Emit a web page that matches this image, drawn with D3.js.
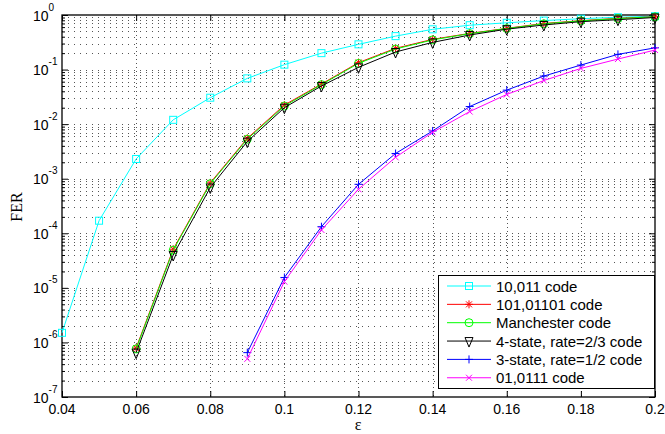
<!DOCTYPE html>
<html>
<head>
<meta charset="utf-8">
<script src="https://cdn.jsdelivr.net/npm/d3@7"></script>
<style>
  body { margin: 0; background: #fff; }
  svg { display: block; }
</style>
</head>
<body>
<div id="chart"></div>
<script>
// data
const epsCyan = [0.04, 0.05, 0.06, 0.07, 0.08, 0.09, 0.1, 0.11, 0.12, 0.13, 0.14, 0.15, 0.16, 0.17, 0.18, 0.19, 0.2];
const epsMid = [0.06, 0.07, 0.08, 0.09, 0.1, 0.11, 0.12, 0.13, 0.14, 0.15, 0.16, 0.17, 0.18, 0.19, 0.2];
const epsLow = [0.09, 0.1, 0.11, 0.12, 0.13, 0.14, 0.15, 0.16, 0.17, 0.18, 0.19, 0.2];

const fer10011 = [1.5e-6, 1.7e-4, 2.3e-3, 1.2e-2, 3.05e-2, 6.9e-2, 0.123, 0.2, 0.29, 0.41, 0.547, 0.65, 0.72, 0.79, 0.855, 0.91, 0.95];
const fer10101101 = [7.9e-7, 5.1e-5, 8.4e-4, 5.5e-3, 0.0224, 0.0544, 0.134, 0.245, 0.358, 0.46, 0.57, 0.7, 0.787, 0.87, 0.93];
const ferManchester = [7.6e-7, 4.9e-5, 8.1e-4, 5.3e-3, 0.0215, 0.053, 0.13, 0.238, 0.35, 0.455, 0.565, 0.69, 0.78, 0.86, 0.925];
const fer4state = [6.5e-7, 4.0e-5, 6.9e-4, 4.8e-3, 0.02, 0.05, 0.11, 0.21, 0.315, 0.43, 0.55, 0.656, 0.755, 0.82, 0.9];
const fer3state = [6.5e-7, 1.55e-5, 1.32e-4, 7.9e-4, 2.9e-3, 7.5e-3, 0.021, 0.042, 0.076, 0.121, 0.19, 0.25];
const fer010111 = [5.0e-7, 1.3e-5, 1.15e-4, 6.4e-4, 2.47e-3, 7.1e-3, 0.017, 0.035, 0.063, 0.105, 0.156, 0.228];

const xTicks = [0.04, 0.06, 0.08, 0.1, 0.12, 0.14, 0.16, 0.18, 0.2];
const xTickLabels = ["0.04", "0.06", "0.08", "0.1", "0.12", "0.14", "0.16", "0.18", "0.2"];
const yExponents = [0, -1, -2, -3, -4, -5, -6, -7];

const series = [
  { name: "10,011 code", x: epsCyan, y: fer10011, color: "#00ffff", marker: "square" },
  { name: "101,01101 code", x: epsMid, y: fer10101101, color: "#ff0000", marker: "star" },
  { name: "Manchester code", x: epsMid, y: ferManchester, color: "#00ff00", marker: "circle" },
  { name: "4-state, rate=2/3 code", x: epsMid, y: fer4state, color: "#000000", marker: "triangle" },
  { name: "3-state, rate=1/2 code", x: epsLow, y: fer3state, color: "#0000ff", marker: "plus" },
  { name: "01,0111 code", x: epsLow, y: fer010111, color: "#ff00ff", marker: "cross" },
];

const width = 665, height = 434;
const plotL = 62, plotR = 655, plotT = 15, plotB = 397;

const svg = d3.select("#chart").append("svg")
  .attr("width", width).attr("height", height);

const x = d3.scaleLinear().domain([0.04, 0.2]).range([plotL, plotR]);
const y = d3.scaleLog().domain([1e-7, 1]).range([plotB, plotT]);

// minor decade values
const minors = [];
yExponents.forEach((e) => {
  if (e === 0) return;
  for (let k = 2; k <= 9; k++) minors.push(k * Math.pow(10, e));
});
const majors = yExponents.map((e) => Math.pow(10, e));

// grid
const grid = svg.append("g").attr("stroke", "#555").attr("stroke-width", 1).attr("fill", "none");
grid.selectAll(".hg")
  .data(majors.concat(minors).filter((v) => v < 1 && v > 1e-7))
  .enter().append("line")
  .attr("x1", plotL).attr("x2", plotR)
  .attr("y1", (d) => Math.round(y(d)) + 0.5).attr("y2", (d) => Math.round(y(d)) + 0.5)
  .attr("stroke-dasharray", "1,5");
grid.selectAll(".vg")
  .data(xTicks.slice(1, -1))
  .enter().append("line")
  .attr("x1", (d) => Math.round(x(d)) + 0.5).attr("x2", (d) => Math.round(x(d)) + 0.5)
  .attr("y1", plotT).attr("y2", plotB)
  .attr("stroke-dasharray", "1,3");

// axes with inward ticks
const axB = svg.append("g").attr("transform", `translate(0,${plotB})`)
  .call(d3.axisBottom(x).tickValues(xTicks).tickSize(-6).tickFormat(""));
const axT = svg.append("g").attr("transform", `translate(0,${plotT})`)
  .call(d3.axisTop(x).tickValues(xTicks).tickSize(-6).tickFormat(""));
const axL = svg.append("g").attr("transform", `translate(${plotL},0)`)
  .call(d3.axisLeft(y).tickValues(majors).tickSize(-6).tickFormat(""));
const axR = svg.append("g").attr("transform", `translate(${plotR},0)`)
  .call(d3.axisRight(y).tickValues(majors).tickSize(-6).tickFormat(""));
const axLm = svg.append("g").attr("transform", `translate(${plotL},0)`)
  .call(d3.axisLeft(y).tickValues(minors).tickSize(-3).tickFormat(""));
const axRm = svg.append("g").attr("transform", `translate(${plotR},0)`)
  .call(d3.axisRight(y).tickValues(minors).tickSize(-3).tickFormat(""));
[axB, axT, axL, axR, axLm, axRm].forEach((a) => a.select(".domain").remove());

// frame
svg.append("rect")
  .attr("x", plotL).attr("y", plotT)
  .attr("width", plotR - plotL).attr("height", plotB - plotT)
  .attr("fill", "none").attr("stroke", "#000").attr("stroke-width", 1.3);

// x tick labels
svg.append("g").selectAll("text")
  .data(xTicks)
  .enter().append("text")
  .attr("x", (d) => x(d)).attr("y", 414)
  .attr("text-anchor", "middle")
  .attr("font-family", "Liberation Sans, Arial, sans-serif")
  .attr("font-size", 14)
  .text((d, i) => xTickLabels[i]);

// y tick labels 10^e
const yl = svg.append("g").selectAll("text")
  .data(yExponents)
  .enter().append("text")
  .attr("x", 33).attr("y", (d) => y(Math.pow(10, d)) + 5.5)
  .attr("font-family", "Liberation Sans, Arial, sans-serif")
  .attr("font-size", 14);
yl.append("tspan").text("10");
yl.append("tspan").attr("font-size", 10).attr("dy", -10).text((d) => d);

// axis titles
svg.append("text")
  .attr("transform", "translate(22,207) rotate(-90)")
  .attr("text-anchor", "middle")
  .attr("font-family", "Liberation Serif, Times New Roman, serif")
  .attr("font-size", 16)
  .text("FER");
svg.append("text")
  .attr("x", 358).attr("y", 430)
  .attr("text-anchor", "middle")
  .attr("font-family", "Liberation Serif, Times New Roman, serif")
  .attr("font-size", 16)
  .text("ε");

// marker drawing
function drawMarker(g, type, color) {
  const s = 4;
  if (type === "square") {
    g.append("rect").attr("x", -3.5).attr("y", -3.5).attr("width", 7).attr("height", 7)
      .attr("fill", "none").attr("stroke", color);
  } else if (type === "circle") {
    g.append("circle").attr("r", 4).attr("fill", "none").attr("stroke", color);
  } else if (type === "triangle") {
    g.append("path").attr("d", `M${-s},${-s + 0.5}L${s},${-s + 0.5}L0,${s + 2}Z`)
      .attr("fill", "none").attr("stroke", color);
  } else if (type === "plus") {
    g.append("path").attr("d", `M${-s},0L${s},0M0,${-s}L0,${s}`)
      .attr("fill", "none").attr("stroke", color);
  } else if (type === "cross") {
    g.append("path").attr("d", `M-3,-3L3,3M-3,3L3,-3`)
      .attr("fill", "none").attr("stroke", color);
  } else if (type === "star") {
    g.append("path").attr("d", `M${-s},0L${s},0M0,${-s}L0,${s}M-3,-3L3,3M-3,3L3,-3`)
      .attr("fill", "none").attr("stroke", color);
  }
}

// series
const line = d3.line().x((d) => x(d[0])).y((d) => y(d[1]));
series.forEach((s) => {
  const pts = s.x.map((v, i) => [v, s.y[i]]);
  const g = svg.append("g");
  g.append("path")
    .attr("d", line(pts))
    .attr("fill", "none").attr("stroke", s.color).attr("stroke-width", 1);
  g.selectAll("g.m")
    .data(pts)
    .enter().append("g")
    .attr("transform", (d) => `translate(${x(d[0])},${y(d[1])})`)
    .each(function () { drawMarker(d3.select(this), s.marker, s.color); });
});

// legend
const legend = svg.append("g");
legend.append("rect")
  .attr("x", 438.5).attr("y", 275.5).attr("width", 216).attr("height", 113)
  .attr("fill", "#fff").attr("stroke", "#000").attr("stroke-width", 1);
series.forEach((s, i) => {
  const ly = 286 + i * 18.35;
  const row = legend.append("g");
  row.append("line")
    .attr("x1", 447).attr("x2", 491).attr("y1", ly).attr("y2", ly)
    .attr("stroke", s.color);
  drawMarker(row.append("g").attr("transform", `translate(469,${ly})`), s.marker, s.color);
  row.append("text")
    .attr("x", 496).attr("y", ly + 5.5)
    .attr("font-family", "Liberation Sans, Arial, sans-serif")
    .attr("font-size", 15)
    .text(s.name);
});
</script>
</body>
</html>
